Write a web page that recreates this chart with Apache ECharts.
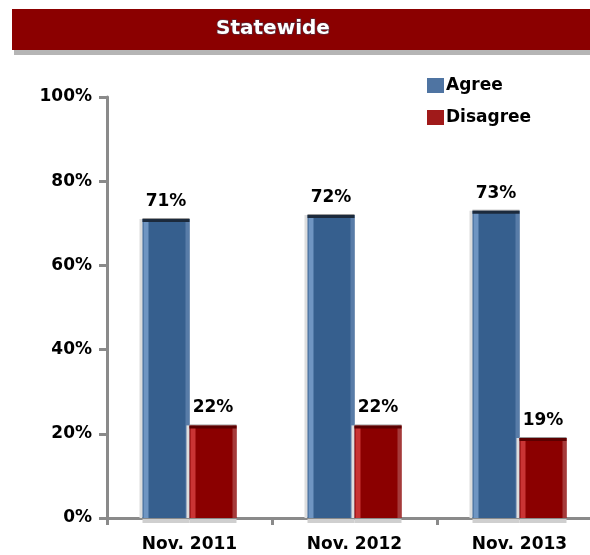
<!DOCTYPE html>
<html>
<head>
<meta charset="utf-8">
<script src="https://cdn.jsdelivr.net/npm/echarts@6/dist/echarts.min.js"></script>
<style>
  html, body { margin: 0; padding: 0; background: #fff; }
  #chart { width: 590px; height: 555px; }
</style>
</head>
<body>
<div id="chart"></div>
<script>
const categories = ['Nov. 2011', 'Nov. 2012', 'Nov. 2013'];
const agree = [71, 72, 73];
const disagree = [22, 22, 19];

const font = '"DejaVu Sans", Verdana, sans-serif';
const BAR_W = 47;

var myChart = echarts.init(document.getElementById('chart'));

// bar drawn with highlight strip on the left and a dark cap on top
function makeBar(offset, c) {
    return function (params, api) {
        var base = api.coord([api.value(0), 0]);
        var top = api.coord([api.value(0), api.value(1)]);
        var x = base[0] + offset;
        var y = top[1];
        var h = base[1] - top[1];
        return {
            type: 'group',
            children: [
                { type: 'rect', shape: { x: x - 3, y: y, width: 3, height: h }, style: { fill: '#dedede' } },
                { type: 'rect', shape: { x: x, y: base[1] + 1, width: BAR_W, height: 4 }, style: { fill: '#cfcfcf' } },
                { type: 'rect', shape: { x: x, y: y, width: BAR_W, height: h }, style: { fill: c.base } },
                { type: 'rect', shape: { x: x + 1, y: y, width: 5, height: h }, style: { fill: c.light } },
                { type: 'rect', shape: { x: x + BAR_W - 4, y: y, width: 4, height: h }, style: { fill: c.edge } },
                { type: 'rect', shape: { x: x, y: y - 1, width: BAR_W, height: 1 }, style: { fill: '#9a9a9a' } },
                { type: 'rect', shape: { x: x, y: y, width: BAR_W, height: 3 }, style: { fill: c.cap } },
                {
                    type: 'text',
                    x: x + BAR_W / 2, y: y - 9,
                    style: {
                        text: api.value(1) + '%',
                        font: 'bold 17px ' + font,
                        fill: '#000',
                        align: 'center',
                        verticalAlign: 'bottom'
                    }
                }
            ]
        };
    };
}

var option = {
    animation: false,
    graphic: [
        {
            type: 'rect',
            shape: { x: 14, y: 50, width: 590, height: 5 },
            style: { fill: '#b5b5b5' }
        },
        {
            type: 'rect',
            shape: { x: 12, y: 9, width: 590, height: 41 },
            style: { fill: '#8b0000' }
        },
        {
            type: 'text',
            x: 273, y: 29,
            style: {
                text: 'Statewide',
                fill: '#ffffff',
                font: 'bold 20px ' + font,
                align: 'center',
                verticalAlign: 'middle',
                stroke: '#5a2a3a',
                lineWidth: 1.5
            }
        }
    ],
    legend: {
        orient: 'vertical',
        left: 422,
        top: 72,
        itemWidth: 17,
        itemHeight: 15,
        itemGap: 15,
        icon: 'rect',
        textStyle: { fontFamily: font, fontWeight: 'bold', fontSize: 17, color: '#000', padding: [0, 0, 0, -3] },
        data: [
            { name: 'Agree', itemStyle: { color: '#4f74a2' } },
            { name: 'Disagree', itemStyle: { color: '#a01a1a' } }
        ]
    },
    grid: { left: 107, top: 97, width: 495, height: 421, outerBoundsMode: 'none' },
    xAxis: {
        type: 'category',
        data: categories,
        axisLine: { lineStyle: { color: '#8a8a8a', width: 3 } },
        axisTick: { show: true, length: 7, lineStyle: { color: '#8a8a8a', width: 3 } },
        axisLabel: { fontFamily: font, fontWeight: 'bold', fontSize: 17, color: '#000', margin: 18 }
    },
    yAxis: {
        type: 'value',
        min: 0, max: 100, interval: 20,
        splitLine: { show: false },
        axisLine: { show: true, lineStyle: { color: '#8a8a8a', width: 3 } },
        axisTick: { show: true, length: 8, lineStyle: { color: '#8a8a8a', width: 3 } },
        axisLabel: { formatter: '{value}%', fontFamily: font, fontWeight: 'bold', fontSize: 17, color: '#000', margin: 15 }
    },
    series: [
        {
            name: 'Agree',
            type: 'custom',
            clip: false,
            itemStyle: { color: '#4f74a2' },
            encode: { x: 0, y: 1 },
            data: agree.map(function (v, i) { return [i, v]; }),
            renderItem: makeBar(-BAR_W, { base: '#365f8e', light: '#6f95c2', edge: '#587ca8', cap: '#1c2a3c' })
        },
        {
            name: 'Disagree',
            type: 'custom',
            clip: false,
            itemStyle: { color: '#a01a1a' },
            encode: { x: 0, y: 1 },
            data: disagree.map(function (v, i) { return [i, v]; }),
            renderItem: makeBar(0, { base: '#8b0000', light: '#c93434', edge: '#a53a3a', cap: '#5c0000' })
        }
    ]
};

myChart.setOption(option);
</script>
</body>
</html>
